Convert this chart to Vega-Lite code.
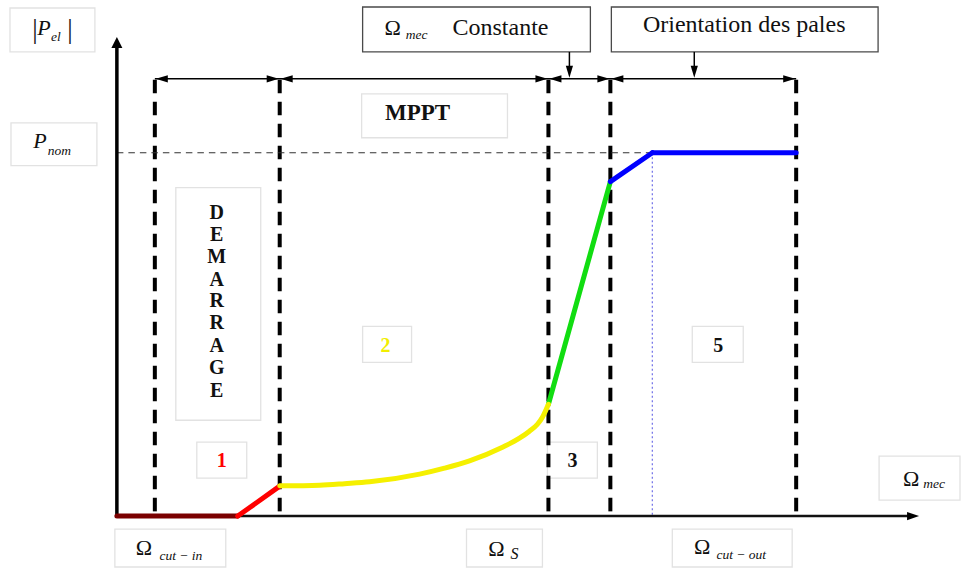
{
  "$schema": "https://vega.github.io/schema/vega-lite/v6.json",
  "width": 961,
  "height": 568,
  "autosize": {"type": "fit", "contains": "padding"},
  "padding": 0,
  "background": "white",
  "config": {"view": {"stroke": null}},
  "encoding": {
    "x": {"field": "x", "type": "quantitative", "scale": {"domain": [-117, 844], "nice": false, "zero": false}, "axis": null},
    "y": {"field": "y", "type": "quantitative", "scale": {"domain": [-51, 517], "nice": false, "zero": false}, "axis": null}
  },
  "layer": [
    {
      "data": {"values": [
        {"x": -107, "x2": -22, "y": 509, "y2": 465, "kind": "light"},
        {"x": -106, "x2": -20, "y": 394, "y2": 351, "kind": "light"},
        {"x": 246, "x2": 474, "y": 510, "y2": 465, "kind": "dark"},
        {"x": 495, "x2": 762, "y": 510, "y2": 465, "kind": "dark"},
        {"x": 245, "x2": 391, "y": 423, "y2": 379, "kind": "light"},
        {"x": 59, "x2": 144, "y": 329, "y2": 96, "kind": "light"},
        {"x": 80, "x2": 130, "y": 74, "y2": 38, "kind": "light"},
        {"x": 246, "x2": 295, "y": 190, "y2": 154, "kind": "light"},
        {"x": 431, "x2": 481, "y": 74, "y2": 38, "kind": "light"},
        {"x": 576, "x2": 627, "y": 190, "y2": 154, "kind": "light"},
        {"x": 763, "x2": 844, "y": 60, "y2": 16, "kind": "light"},
        {"x": -2, "x2": 109, "y": -13, "y2": -51, "kind": "light"},
        {"x": 350, "x2": 426, "y": -13, "y2": -51, "kind": "light"},
        {"x": 556, "x2": 676, "y": -13, "y2": -51, "kind": "light"}
      ]},
      "mark": {"type": "rect", "fill": "white", "strokeWidth": 1.3},
      "encoding": {
        "x2": {"field": "x2"},
        "y2": {"field": "y2"},
        "stroke": {"field": "kind", "type": "nominal", "scale": {"domain": ["light", "dark"], "range": ["#e2e2e2", "#4a4a4a"]}, "legend": null}
      }
    },
    {
      "data": {"values": [
        {"x": 38, "y": 437, "y2": 0},
        {"x": 163, "y": 437, "y2": 0},
        {"x": 432, "y": 437, "y2": 0},
        {"x": 494, "y": 437, "y2": 0},
        {"x": 680, "y": 437, "y2": 0}
      ]},
      "mark": {"type": "rule", "color": "#000", "strokeWidth": 4, "strokeDash": [13.5, 8.5]},
      "encoding": {"y2": {"field": "y2"}}
    },
    {
      "data": {"values": [{"x": 0, "x2": 536, "y": 364}]},
      "mark": {"type": "rule", "color": "#333", "strokeWidth": 1.2, "strokeDash": [6.5, 5]},
      "encoding": {"x2": {"field": "x2"}}
    },
    {
      "data": {"values": [{"x": 536, "y": 364, "y2": 0}]},
      "mark": {"type": "rule", "color": "#6f6fe8", "strokeWidth": 1.2, "strokeDash": [2, 2.5]},
      "encoding": {"y2": {"field": "y2"}}
    },
    {
      "data": {"values": [
        {"x": 38, "x2": 680, "y": 438, "y2": 438},
        {"x": 453, "x2": 453, "y": 465, "y2": 446},
        {"x": 578, "x2": 578, "y": 465, "y2": 446}
      ]},
      "mark": {"type": "rule", "color": "#000", "strokeWidth": 1.5},
      "encoding": {"x2": {"field": "x2"}, "y2": {"field": "y2"}}
    },
    {
      "data": {"values": [{"x": 0, "y": 0, "y2": 472}]},
      "mark": {"type": "rule", "color": "#000", "strokeWidth": 3.5},
      "encoding": {"y2": {"field": "y2"}}
    },
    {
      "data": {"values": [{"x": 0, "x2": 795, "y": 0}]},
      "mark": {"type": "rule", "color": "#111", "strokeWidth": 2.5},
      "encoding": {"x2": {"field": "x2"}}
    },
    {
      "data": {"values": [
        {"seg": "arret", "x": 0, "y": 0},
        {"seg": "arret", "x": 121, "y": 0},
        {"seg": "demarrage", "x": 121, "y": 0},
        {"seg": "demarrage", "x": 163, "y": 30},
        {"seg": "vitesse", "x": 432, "y": 112},
        {"seg": "vitesse", "x": 494, "y": 335},
        {"seg": "montee", "x": 494, "y": 335},
        {"seg": "montee", "x": 536, "y": 364},
        {"seg": "nominal", "x": 536, "y": 364},
        {"seg": "nominal", "x": 680, "y": 364}
      ]},
      "mark": {"type": "line", "strokeWidth": 5, "strokeCap": "round"},
      "encoding": {
        "color": {"field": "seg", "type": "nominal", "scale": {"domain": ["arret", "demarrage", "vitesse", "montee", "nominal"], "range": ["#7a0000", "#ff0000", "#11dd11", "#0000ff", "#0000ff"]}, "legend": null}
      }
    },
    {
      "data": {"values": [
        {"x": 163, "y": 30.3},
        {"x": 203, "y": 31},
        {"x": 228, "y": 32.5},
        {"x": 253, "y": 34.3},
        {"x": 303, "y": 42},
        {"x": 328, "y": 48},
        {"x": 353, "y": 55.3},
        {"x": 386, "y": 69},
        {"x": 403, "y": 78},
        {"x": 413, "y": 85},
        {"x": 421, "y": 92},
        {"x": 426, "y": 99},
        {"x": 432, "y": 112}
      ]},
      "mark": {"type": "line", "color": "#f5f000", "strokeWidth": 5, "interpolate": "monotone", "strokeCap": "round"}
    },
    {
      "data": {"values": [
        {"x": 45, "y": 438, "dir": "left"},
        {"x": 156, "y": 438, "dir": "right"},
        {"x": 170, "y": 438, "dir": "left"},
        {"x": 425, "y": 438, "dir": "right"},
        {"x": 439, "y": 438, "dir": "left"},
        {"x": 487, "y": 438, "dir": "right"},
        {"x": 501, "y": 438, "dir": "left"},
        {"x": 673, "y": 438, "dir": "right"},
        {"x": 453, "y": 445, "dir": "down"},
        {"x": 578, "y": 445, "dir": "down"},
        {"x": 0, "y": 474.5, "dir": "up"},
        {"x": 797, "y": 0, "dir": "xaxis"}
      ]},
      "mark": {"type": "point", "filled": true, "color": "#000", "opacity": 1, "size": 144},
      "encoding": {
        "shape": {"field": "dir", "type": "nominal", "legend": null, "scale": {
          "domain": ["left", "right", "down", "up", "xaxis"],
          "range": [
            "M-1,0L1,-0.6L1,0.6Z",
            "M1,0L-1,-0.6L-1,0.6Z",
            "M0,1L-0.6,-1L0.6,-1Z",
            "M0,-0.92L-0.92,0.92L0.92,0.92Z",
            "M1,0L-1,-0.7L-1,0.7Z"
          ]
        }}
      }
    },
    {
      "data": {"values": [
        {"x": 276, "y": 489, "t": "Ω"},
        {"x": 795, "y": 37, "t": "Ω"},
        {"x": 27, "y": -31.5, "t": "Ω"},
        {"x": 380, "y": -33, "t": "Ω"},
        {"x": 586, "y": -31, "t": "Ω"}
      ]},
      "mark": {"type": "text", "font": "Liberation Serif", "fontSize": 22, "align": "center", "baseline": "middle", "color": "#111"},
      "encoding": {"text": {"field": "t"}}
    },
    {
      "data": {"values": [
        {"x": -73, "y": 489, "t": "P"},
        {"x": -77, "y": 376, "t": "P"}
      ]},
      "mark": {"type": "text", "font": "Liberation Serif", "fontSize": 22, "fontStyle": "italic", "align": "center", "baseline": "middle", "color": "#111"},
      "encoding": {"text": {"field": "t"}}
    },
    {
      "data": {"values": [
        {"x": -82, "y": 487, "t": "|"},
        {"x": -47, "y": 487, "t": "|"}
      ]},
      "mark": {"type": "text", "font": "Liberation Serif", "fontSize": 27, "align": "center", "baseline": "middle", "color": "#111"},
      "encoding": {"text": {"field": "t"}}
    },
    {
      "data": {"values": [
        {"x": -61, "y": 480, "t": "el"},
        {"x": -57.5, "y": 366, "t": "nom"},
        {"x": 300, "y": 482, "t": "mec"},
        {"x": 818, "y": 32, "t": "mec"},
        {"x": 64, "y": -40, "t": "cut − in"},
        {"x": 625, "y": -39, "t": "cut − out"}
      ]},
      "mark": {"type": "text", "font": "Liberation Serif", "fontSize": 13.5, "fontStyle": "italic", "align": "center", "baseline": "middle", "color": "#111"},
      "encoding": {"text": {"field": "t"}}
    },
    {
      "data": {"values": [{"x": 398, "y": -38, "t": "S"}]},
      "mark": {"type": "text", "font": "Liberation Serif", "fontSize": 16, "fontStyle": "italic", "align": "center", "baseline": "middle", "color": "#111"},
      "encoding": {"text": {"field": "t"}}
    },
    {
      "data": {"values": [
        {"x": 384, "y": 489, "t": "Constante"},
        {"x": 628, "y": 492, "t": "Orientation des pales"}
      ]},
      "mark": {"type": "text", "font": "Liberation Serif", "fontSize": 24, "align": "center", "baseline": "middle", "color": "#111"},
      "encoding": {"text": {"field": "t"}}
    },
    {
      "data": {"values": [{"x": 301, "y": 404, "t": "MPPT"}]},
      "mark": {"type": "text", "font": "Liberation Serif", "fontSize": 23, "fontWeight": "bold", "align": "center", "baseline": "middle", "color": "#111"},
      "encoding": {"text": {"field": "t"}}
    },
    {
      "data": {"values": [
        {"x": 100, "y": 304, "t": "D"},
        {"x": 100, "y": 282, "t": "E"},
        {"x": 100, "y": 260, "t": "M"},
        {"x": 100, "y": 237, "t": "A"},
        {"x": 100, "y": 215, "t": "R"},
        {"x": 100, "y": 193, "t": "R"},
        {"x": 100, "y": 170, "t": "A"},
        {"x": 100, "y": 148, "t": "G"},
        {"x": 100, "y": 125, "t": "E"},
        {"x": 105, "y": 55, "t": "1"},
        {"x": 269, "y": 170, "t": "2"},
        {"x": 456, "y": 55, "t": "3"},
        {"x": 602, "y": 170, "t": "5"}
      ]},
      "mark": {"type": "text", "font": "Liberation Serif", "fontSize": 20, "fontWeight": "bold", "align": "center", "baseline": "middle"},
      "encoding": {
        "text": {"field": "t"},
        "color": {"condition": [
          {"test": "datum.t === '1'", "value": "#ff0000"},
          {"test": "datum.t === '2'", "value": "#f2ee00"}
        ], "value": "#111"}
      }
    }
  ]
}
